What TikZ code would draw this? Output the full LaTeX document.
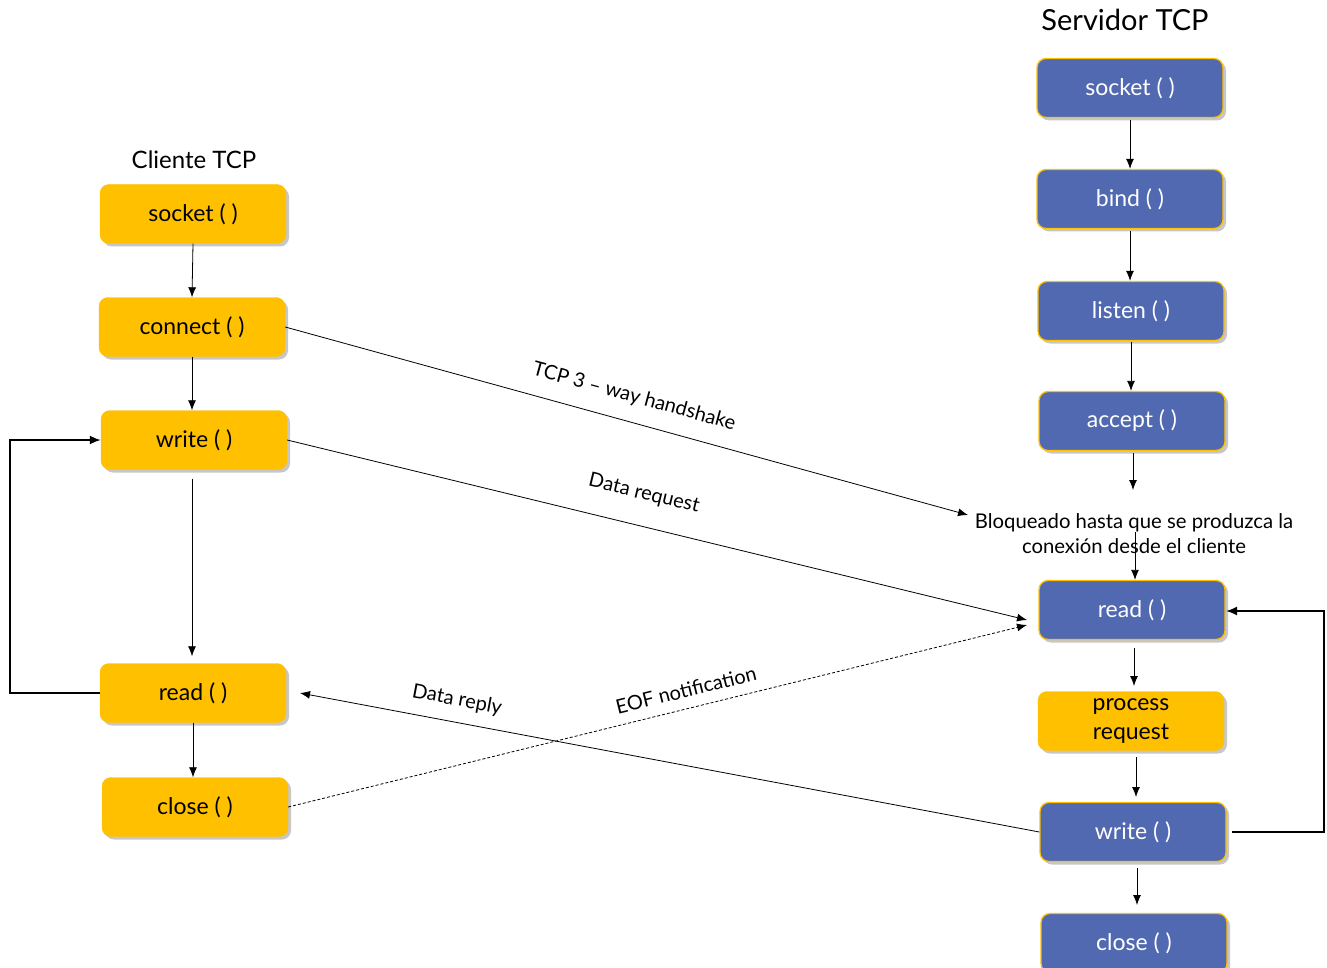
\documentclass[tikz,border=0pt]{standalone}
\usepackage{fontspec}
\setmainfont{Lato}
\usetikzlibrary{arrows.meta,shadows}
\definecolor{orng}{HTML}{FFC000}
\definecolor{blu}{HTML}{5169B1}
\begin{document}
\begin{tikzpicture}[x=1pt,y=-1pt,
  box/.style={rounded corners=9pt, minimum width=186pt, minimum height=59pt, inner sep=0pt,
    drop shadow={shadow xshift=3pt, shadow yshift=-3pt, fill=black, opacity=0.22},
    font=\fontsize{23}{29}\selectfont, align=center},
  cbox/.style={box, fill=orng, draw=orng, text=black},
  sbox/.style={box, fill=blu, draw=orng, line width=1.3pt, text=white},
  arr/.style={-{Latex[length=10pt,width=8pt]}, line width=0.8pt, black},
  loop/.style={-{Latex[length=11pt,width=9pt]}, line width=1.8pt, black},
  lbl/.style={font=\fontsize{20}{24}\selectfont, inner sep=0pt},
  ttl/.style={font=\fontsize{24}{28}\selectfont, inner sep=0pt}]
\path[use as bounding box] (0,0) rectangle (1327,968);

% titles
\node[ttl] (tc) at (194,160) {Cliente TCP};
\node[ttl, font=\fontsize{29}{33}\selectfont] (ts) at (1125,20) {Servidor TCP};

% client
\node[cbox] (csock) at (193,214) {socket ( )};
\node[cbox] (cconn) at (192,327) {connect ( )};
\node[cbox] (cwrite) at (194,440) {write ( )};
\node[cbox] (cread) at (193,693) {read ( )};
\node[cbox] (cclose) at (195,807) {close ( )};

% server
\node[sbox] (ssock) at (1130,88) {socket ( )};
\node[sbox] (sbind) at (1130,199) {bind ( )};
\node[sbox] (slist) at (1131,311) {listen ( )};
\node[sbox] (sacc) at (1132,421) {accept ( )};
\node[lbl, align=center, font=\fontsize{20.3}{25}\selectfont] (blk) at (1134,534) {Bloqueado hasta que se produzca la\\conexión desde el cliente};
\node[sbox] (sread) at (1132,610) {read ( )};
\node[cbox] (sproc) at (1131,721) {process\\request};
\node[sbox] (swrite) at (1133,832) {write ( )};
\node[sbox] (sclose) at (1134,943) {close ( )};

% client vertical arrows
\draw[arr] (csock.south) -- (cconn.north);
\draw[arr] (cconn.south) -- (cconn.south |- cwrite.north);
\draw[arr, shorten <=9pt, shorten >=7pt] (cconn.south |- cwrite.south) -- (cconn.south |- cread.north);
\draw[arr] (cread.south) -- (cread.south |- cclose.north);

% client loop
\coordinate (cl1) at (10,693);
\coordinate (cl2) at (10,440);
\draw[loop] (cread.west) -- (cl1) -- (cl2) -- (cwrite.west);

% server vertical arrows
\draw[arr, shorten <=2pt] (ssock.south) -- (sbind.north);
\draw[arr, shorten <=2pt] (sbind.south) -- (sbind.south |- slist.north);
\draw[arr, shorten <=1pt] (slist.south) -- (slist.south |- sacc.north);
\coordinate (blkin) at (1133,490);
\draw[arr, shorten <=2pt] (sacc.south -| blkin) -- (blkin);
\coordinate (blkout) at (1135,532);
\draw[arr] (blkout) -- (blkout |- sread.north);
\draw[arr, shorten <=9pt, shorten >=5pt] (1134,639) -- (1134,691);
\draw[arr, shorten <=6pt, shorten >=6pt] (1136,751) -- (1136,803);
\draw[arr, shorten <=6pt, shorten >=9pt] (1137,862) -- (1137,914);

% server loop
\coordinate (sl1) at (1324,832);
\coordinate (sl2) at (1324,611);
\draw[loop] (1232,832) -- (sl1) -- (sl2) -- (1226,611);

% messages
\coordinate (hsend) at (968,515);
\draw[arr] (cconn.east) -- (hsend);
\node[lbl, rotate=-15.3] (lhs) at (634,397) {TCP 3 – way handshake};

\coordinate (dqend) at (1027,620);
\draw[arr] (cwrite.east) -- (dqend);
\node[lbl, rotate=-13.6] (ldq) at (644,494) {Data request};

\coordinate (eofend) at (1027,625);
\draw[arr, dashed, dash pattern=on 3pt off 2pt] (cclose.east) -- (eofend);
\node[lbl, rotate=13.9] (leof) at (686,690) {EOF notification};

\coordinate (drend) at (300,693);
\draw[arr] (swrite.west) -- (drend);
\node[lbl, rotate=-10.6] (ldr) at (457,700) {Data reply};
\end{tikzpicture}
\end{document}
